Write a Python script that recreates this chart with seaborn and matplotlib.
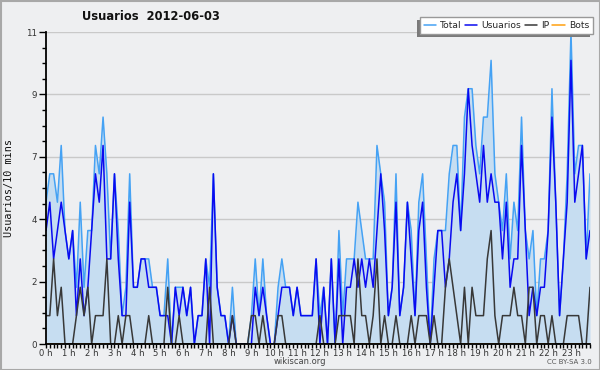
import numpy as np
import pandas as pd
import matplotlib
matplotlib.use("Agg")
import matplotlib.pyplot as plt
import seaborn as sns
from matplotlib.patches import Rectangle
from matplotlib.lines import Line2D
from matplotlib.ticker import FixedLocator, MultipleLocator

title = "Usuarios  2012-06-03"
y_label = "Usuarios/10 mins"
hour_labels = [f"{h} h" for h in range(24)]
y_tick_values = [0, 2.2, 4.4, 6.6, 8.8, 11]
y_tick_labels = ["0", "2", "4", "7", "9", "11"]
series_names = ["Total", "Usuarios", "IP", "Bots"]

usuarios = [4, 5, 3, 4, 5, 4, 3, 4, 1, 3, 1, 2, 4, 6, 5, 7, 3, 3, 6, 3, 1, 1, 5, 2,
            2, 3, 3, 2, 2, 2, 1, 1, 1, 0, 2, 1, 2, 1, 2, 0, 1, 1, 3, 0, 6, 2, 1, 1,
            0, 1, 0, 0, 0, 0, 0, 2, 1, 2, 1, 0, 0, 1, 2, 2, 2, 1, 2, 1, 1, 1, 1, 3,
            0, 2, 0, 3, 0, 3, 0, 2, 2, 3, 2, 3, 2, 3, 2, 4, 6, 4, 1, 2, 5, 1, 2, 5,
            3, 1, 4, 5, 2, 0, 2, 4, 4, 2, 3, 5, 6, 4, 6, 9, 7, 6, 5, 7, 5, 6, 5, 5,
            3, 5, 2, 3, 3, 7, 4, 1, 2, 1, 2, 2, 4, 8, 5, 1, 3, 5, 10, 5, 6, 7, 3, 4]
ip = [1, 1, 3, 1, 2, 0, 0, 0, 1, 2, 1, 2, 0, 1, 1, 1, 3, 0, 0, 1, 0, 1, 1, 0,
      0, 0, 0, 1, 0, 0, 0, 0, 2, 0, 0, 1, 0, 0, 0, 0, 0, 0, 0, 2, 0, 0, 0, 0,
      0, 1, 0, 0, 0, 0, 1, 1, 0, 1, 0, 0, 0, 1, 1, 0, 0, 0, 0, 0, 0, 0, 0, 0,
      1, 0, 0, 0, 0, 1, 1, 1, 1, 0, 3, 1, 1, 0, 1, 3, 0, 1, 0, 0, 1, 0, 0, 0,
      1, 0, 1, 1, 1, 0, 1, 0, 0, 2, 3, 2, 1, 0, 2, 0, 2, 1, 1, 1, 3, 4, 1, 0,
      1, 1, 1, 2, 1, 1, 0, 2, 2, 0, 1, 1, 0, 1, 0, 0, 0, 1, 1, 1, 1, 0, 0, 2]
total = [5, 6, 6, 5, 7, 4, 3, 4, 2, 5, 2, 4, 4, 7, 6, 8, 6, 3, 6, 4, 1, 2, 6, 2,
         2, 3, 3, 3, 2, 2, 1, 1, 3, 0, 2, 2, 2, 1, 2, 0, 1, 1, 3, 2, 6, 2, 1, 1,
         0, 2, 0, 0, 0, 0, 1, 3, 1, 3, 1, 0, 0, 2, 3, 2, 2, 1, 2, 1, 1, 1, 1, 3,
         1, 2, 0, 3, 0, 4, 1, 3, 3, 3, 5, 4, 3, 3, 3, 7, 6, 5, 1, 2, 6, 1, 2, 5,
         4, 1, 5, 6, 3, 0, 3, 4, 4, 4, 6, 7, 7, 4, 8, 9, 9, 7, 6, 8, 8, 10, 6, 5,
         4, 6, 3, 5, 4, 8, 4, 3, 4, 1, 3, 3, 4, 9, 5, 1, 3, 6, 11, 6, 7, 7, 3, 6]
bots = [0] * 144

colors = {"Total": "#45a2f4", "Usuarios": "#0a0af0", "IP": "#383838", "Bots": "#ffa010"}
fill_color = "#c6ddf1"
bg = "#eeeff1"

df = pd.DataFrame({"t": np.arange(len(total)), "Total": total, "Usuarios": usuarios,
                   "IP": ip, "Bots": bots})
long = df.melt(id_vars="t", var_name="serie", value_name="value")

sns.set_style("white")
plt.rcParams["font.family"] = ["DejaVu Sans"]

fig = plt.figure(figsize=(6, 3.7), dpi=100, facecolor=bg)
ax = fig.add_axes([46 / 600, 1 - 344 / 370, 544 / 600, 312 / 370])
ax.set_facecolor(bg)

ax.fill_between(df["t"], df["Total"], 0, color=fill_color, lw=0, zorder=1)
for name, z in [("Bots", 2), ("Total", 3), ("Usuarios", 4), ("IP", 5)]:
    sub = long[long["serie"] == name]
    sns.lineplot(data=sub, x="t", y="value", color=colors[name], linewidth=1.1,
                 ax=ax, legend=False, zorder=z)

ax.set_xlim(0, len(total) - 1)
ax.set_ylim(0, 11)
ax.set_xlabel("")
ax.set_ylabel(y_label, fontsize=7.3, family="DejaVu Sans Mono", color="#111")
ax.yaxis.set_label_coords(-0.058, 0.5)

ax.yaxis.set_major_locator(FixedLocator(y_tick_values))
ax.set_yticklabels(y_tick_labels)
ax.yaxis.set_minor_locator(MultipleLocator(0.55))
ax.xaxis.set_major_locator(FixedLocator(list(range(0, 144, 6))))
ax.set_xticklabels(hour_labels)
ax.xaxis.set_minor_locator(MultipleLocator(1))

ax.tick_params(axis="both", which="major", direction="out", length=3, width=1,
               color="black", labelsize=6.1, labelcolor="#333", pad=0.5)
ax.tick_params(axis="both", which="minor", direction="out", length=3, width=1,
               color="black")
ax.tick_params(axis="y", which="major", length=5, pad=1.5, labelsize=6.3)
ax.tick_params(bottom=True, left=True, which="both")

ax.grid(axis="y", which="major", color="#c9c9c9", linewidth=1)
ax.grid(axis="x", visible=False)
ax.set_axisbelow(True)
for s in ["top", "right"]:
    ax.spines[s].set_visible(False)
for s in ["left", "bottom"]:
    ax.spines[s].set_color("black")
    ax.spines[s].set_linewidth(1.3)
    ax.spines[s].set_zorder(10)

fig.text(151 / 600, 1 - 16.5 / 370, title, ha="center", va="center",
         fontsize=8.3, fontweight="bold", color="#111")
fig.text(300 / 600, 1 - 362 / 370, "wikiscan.org", ha="center", va="center",
         fontsize=6.0, color="#444")
fig.text(569 / 600, 1 - 362.5 / 370, "CC BY-SA 3.0", ha="center", va="center",
         fontsize=5, color="#555")

handles = [Line2D([0], [0], color=colors[n], lw=1.1) for n in series_names]
leg = fig.legend(handles, series_names, loc="upper right",
                 bbox_to_anchor=(593 / 600, 1 - 17 / 370), ncol=4, frameon=True,
                 fontsize=6.6, handlelength=1.35, handletextpad=0.45,
                 columnspacing=0.35, borderpad=0.42, borderaxespad=0,
                 fancybox=False, edgecolor="#999999", facecolor="white",
                 framealpha=1)
leg.get_frame().set_linewidth(1)
leg.set_zorder(20)

fig.canvas.draw()
fb = leg.get_frame().get_window_extent()
sh = Rectangle((fb.x0 - 3, fb.y0 - 3), fb.width, fb.height, transform=None,
               facecolor="#7a7a7a", edgecolor="none", zorder=19)
fig.add_artist(sh)

border = Rectangle((0.5, 0.5), 599, 369, transform=None, fill=False,
                   edgecolor="#a8a8a8", linewidth=1.5, zorder=30)
fig.add_artist(border)

fig.savefig("out.png", dpi=100, facecolor=bg)
